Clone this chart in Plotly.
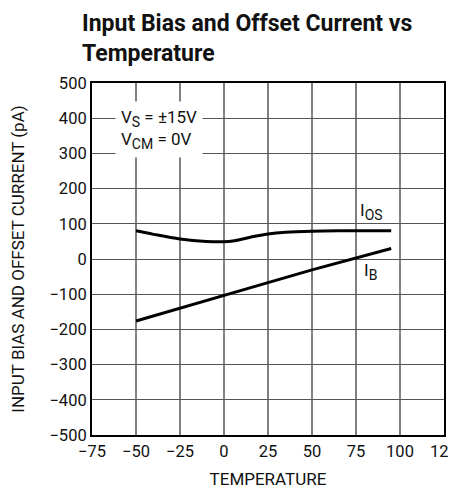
import plotly.graph_objects as go

# Input offset current (IOS), pA
temp_ios = [-50, -40, -25, -10, 0, 5, 15, 25, 35, 50, 65, 80, 95]
ios = [80, 70, 57, 50, 49, 51, 62, 71, 76, 79, 80, 80, 80]

# Input bias current (IB), pA
temp_ib = [-50, -25, 0, 25, 50, 75, 95]
ib = [-176, -139, -102, -67, -31, 2, 30]

x_ticks = [-75, -50, -25, 0, 25, 50, 75, 100, 125]
y_ticks = [-500, -400, -300, -200, -100, 0, 100, 200, 300, 400, 500]

FONT = "Roboto, Arial, sans-serif"
INK = "#111111"

fig = go.Figure()

fig.add_trace(go.Scatter(x=temp_ios, y=ios, mode="lines",
                         line=dict(color="black", width=3, shape="spline"),
                         showlegend=False))
fig.add_trace(go.Scatter(x=temp_ib, y=ib, mode="lines",
                         line=dict(color="black", width=3),
                         showlegend=False))

# title, placed as a paper annotation so it stays put
fig.add_annotation(x=-0.035, y=1.212, xref="paper", yref="paper",
                   xanchor="left", yanchor="top", align="left",
                   text="<b>Input Bias and Offset Current vs<br>Temperature</b>",
                   showarrow=False,
                   font=dict(family=FONT, size=23, color=INK))

# conditions box, covers the grid behind it
sub = "<sub><span style='font-size:14px'>{}</span></sub>"
fig.add_annotation(x=-62, y=368, xanchor="left", yanchor="middle", align="left",
                   text="V" + sub.format("S") + " = ±15V<br>V" + sub.format("CM") + " = 0V",
                   showarrow=False, bgcolor="white", borderpad=5,
                   font=dict(family=FONT, size=17, color=INK))

# curve labels
fig.add_annotation(x=84, y=134, text="I" + sub.format("OS"), showarrow=False,
                   font=dict(family=FONT, size=17, color=INK))
fig.add_annotation(x=83, y=-36, text="I" + sub.format("B"), showarrow=False,
                   font=dict(family=FONT, size=17, color=INK))

# page body adds 8px on the top and left
fig.update_layout(
    width=456, height=481,
    margin=dict(l=84, r=20, t=75, b=54, autoexpand=False),
    plot_bgcolor="white",
    paper_bgcolor="white",
    font=dict(family=FONT, size=16.5, color=INK),
)

fig.update_xaxes(range=[-75, 125], tickvals=x_ticks, automargin=False,
                 ticklabeloverflow="allow",
                 showgrid=True, gridcolor="#808080", gridwidth=1.5,
                 showline=True, linecolor="black", linewidth=2, mirror=True,
                 ticks="", zeroline=False,
                 title=dict(text="TEMPERATURE", standoff=15,
                            font=dict(family=FONT, size=17)))
fig.update_yaxes(range=[-500, 500], tickvals=y_ticks, automargin=False,
                 showgrid=True, gridcolor="#555555", gridwidth=1.2,
                 showline=True, linecolor="black", linewidth=2, mirror=True,
                 ticks="", zeroline=False,
                 title=dict(text="INPUT BIAS AND OFFSET CURRENT (pA)", standoff=20,
                            font=dict(family=FONT, size=17)))

fig.write_html("out.html")
